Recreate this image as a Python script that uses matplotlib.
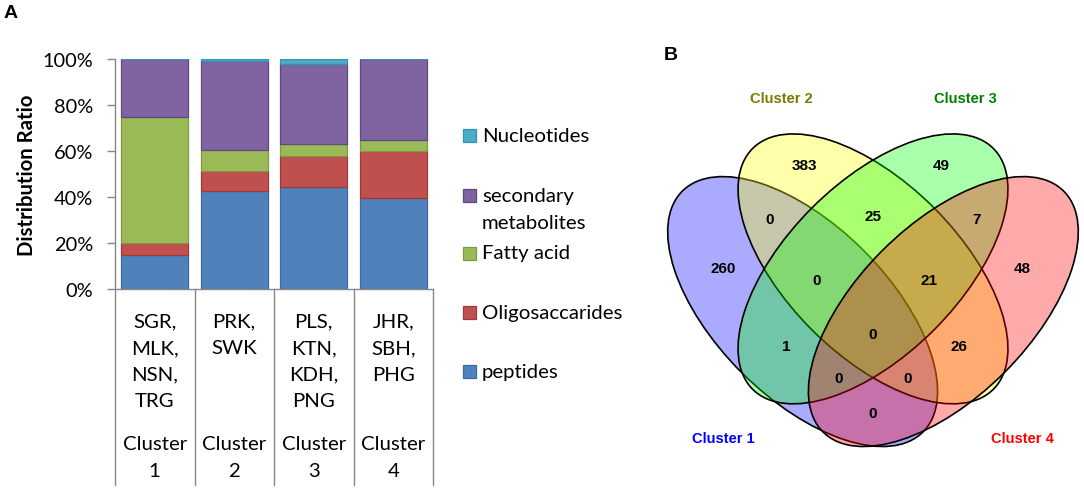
import matplotlib
matplotlib.use("Agg")
import matplotlib.pyplot as plt
from matplotlib.patches import Ellipse, Rectangle
import matplotlib.transforms as mtransforms
import numpy as np

# ---------------- data ----------------
clusters = ["Cluster\n1", "Cluster\n2", "Cluster\n3", "Cluster\n4"]
members = [["SGR,", "MLK,", "NSN,", "TRG"],
           ["PRK,", "SWK"],
           ["PLS,", "KTN,", "KDH,", "PNG"],
           ["JHR,", "SBH,", "PHG"]]
series_names = ["peptides", "Oligosaccarides", "Fatty acid", "secondary\nmetabolites", "Nucleotides"]
peptides = [15.0, 42.8, 44.5, 39.4]
oligosaccarides = [4.8, 8.7, 13.3, 20.7]
fatty_acid = [55.2, 9.1, 5.2, 4.9]
secondary_metabolites = [25.0, 38.7, 34.7, 35.0]
nucleotides = [0.0, 0.7, 2.3, 0.0]
yticks = [0, 20, 40, 60, 80, 100]

venn_sets = ["Cluster 1", "Cluster 2", "Cluster 3", "Cluster 4"]
venn_regions = ["1", "2", "3", "4", "12", "23", "34", "123", "234", "1234",
                "13", "24", "134", "124", "14"]
venn_counts = [260, 383, 49, 48, 0, 25, 7, 0, 21, 0, 1, 26, 0, 0, 0]

# ---------------- style / layout ----------------
W, H = 1084, 489
def fx(x): return x / W
def fy(y): return 1 - y / H

face = ["#4F81BD", "#C0504D", "#9BBB59", "#8064A2", "#4BACC6"]
edge = ["#3C6BA3", "#9E3B38", "#7E9A45", "#5F4884", "#3793AB"]
gray = "#868686"
font = "Lato"
fs = 14.7

fig = plt.figure(figsize=(W / 100, H / 100), dpi=100)
fig.patch.set_facecolor("white")

# ---------------- panel A ----------------
axL, axR, axT, axB = 115, 433, 60, 290
ax = fig.add_axes([fx(axL), fy(axB), (axR - axL) / W, (axB - axT) / H])
series = [peptides, oligosaccarides, fatty_acid, secondary_metabolites, nucleotides]
x = np.arange(len(clusters))
bottom = np.zeros(len(clusters))
for vals, fc, ec in zip(series, face, edge):
    v = np.array(vals)
    ax.bar(x, v, 0.84, bottom=bottom, color=fc, edgecolor=ec, linewidth=0.9, zorder=2)
    bottom += v

ax.set_xlim(-0.5, len(clusters) - 0.5)
ax.set_ylim(0, 100)
ax.set_yticks(yticks)
ax.set_yticklabels([f"{t}%" for t in yticks], fontfamily=font, fontsize=14.4)
ax.set_xticks([])
for s in ["top", "right"]:
    ax.spines[s].set_visible(False)
for s in ["left", "bottom"]:
    ax.spines[s].set_color(gray)
    ax.spines[s].set_linewidth(1.0)
ax.tick_params(axis="y", length=5.8, width=1.0, color=gray, pad=10)
ax.set_ylabel("Distribution Ratio", fontfamily=font, fontsize=14.6, fontweight="bold")
ax.yaxis.set_label_coords((27 - axL) / (axR - axL), 0.5)
ax.yaxis.label.set_va("center")

blend = mtransforms.blended_transform_factory(ax.transData, fig.transFigure)
for b in np.arange(len(clusters) + 1) - 0.5:
    ax.plot([b, b], [fy(axB), fy(486)], color=gray, lw=1.0, transform=blend, clip_on=False)

line_step = 26.7
for i, (mem, cl) in enumerate(zip(members, clusters)):
    for j, t in enumerate(mem):
        ax.text(i, fy(321.7 + j * line_step), t, transform=blend, ha="center", va="center",
                fontfamily=font, fontsize=fs)
    for j, t in enumerate(cl.split("\n")):
        ax.text(i, fy(445 + j * line_step), t, transform=blend, ha="center", va="center",
                fontfamily=font, fontsize=fs)

# legend (top to bottom, Excel style)
leg_y = [136, 196.7, 254, 313.3, 372.7]
order = [4, 3, 2, 1, 0]
for yy, k in zip(leg_y, order):
    fig.add_artist(Rectangle((fx(463), fy(yy + 6.5)), 13 / W, 13 / H, transform=fig.transFigure,
                             facecolor=face[k], edgecolor=edge[k], linewidth=0.9))
    for j, t in enumerate(series_names[k].split("\n")):
        fig.text(fx(482), fy(yy + j * line_step), t, ha="left", va="center",
                 fontfamily=font, fontsize=fs)

fig.text(fx(11), fy(13.5), "A", ha="center", va="center", fontfamily="Liberation Sans",
         fontweight="bold", fontsize=14)

# ---------------- panel B ----------------
s = 469.0          # px per venn unit
cxp, cyp = 873.0, 268.0   # pixel position of venn unit (0.5, 0.57)
vx0, vx1, vy0, vy1 = 640, 1084, 50, 489
axv = fig.add_axes([fx(vx0), fy(vy1), (vx1 - vx0) / W, (vy1 - vy0) / H])
axv.set_xlim(0.5 + (vx0 - cxp) / s, 0.5 + (vx1 - cxp) / s)
axv.set_ylim(0.57 - (vy1 - cyp) / s, 0.57 + (cyp - vy0) / s)
axv.axis("off")

ell_centers = [(0.35, 0.475), (0.5, 0.566), (0.5, 0.566), (0.65, 0.475)]
ell_angles = [-45, -45, 45, 45]
ell_colors = [(0, 0, 1), (1, 1, 0), (0, 1, 0), (1, 0, 0)]
for (cx, cy), ang, c in zip(ell_centers, ell_angles, ell_colors):
    axv.add_patch(Ellipse((cx, cy), 0.726, 0.368, angle=ang, facecolor=(*c, 1 / 3),
                          edgecolor="black", linewidth=1.2))

region_pos = {"1": (0.181, 0.568), "2": (0.3535, 0.7875), "3": (0.6465, 0.7875),
              "4": (0.819, 0.568), "12": (0.279, 0.672), "23": (0.5, 0.679),
              "34": (0.721, 0.672), "123": (0.380, 0.543), "234": (0.620, 0.543),
              "1234": (0.5, 0.427), "13": (0.316, 0.401), "24": (0.684, 0.401),
              "134": (0.426, 0.333), "124": (0.574, 0.333), "14": (0.5, 0.259)}
for r, n in zip(venn_regions, venn_counts):
    px, py = region_pos[r]
    axv.text(px, py, str(n), ha="center", va="center", fontfamily="Liberation Sans",
             fontweight="bold", fontsize=11, color="black")

set_pos = [(0.181, 0.205), (0.304, 0.930), (0.696, 0.930), (0.819, 0.205)]
set_colors = ["#0000FF", "#7A7A00", "#008000", "#FF0000"]
for name, (px, py), c in zip(venn_sets, set_pos, set_colors):
    axv.text(px, py, name, ha="center", va="center", fontfamily="Liberation Sans",
             fontweight="bold", fontsize=10.5, color=c)

fig.text(fx(670.5), fy(55.5), "B", ha="center", va="center", fontfamily="Liberation Sans",
         fontweight="bold", fontsize=14)

fig.savefig("out.png", dpi=100, facecolor="white")
